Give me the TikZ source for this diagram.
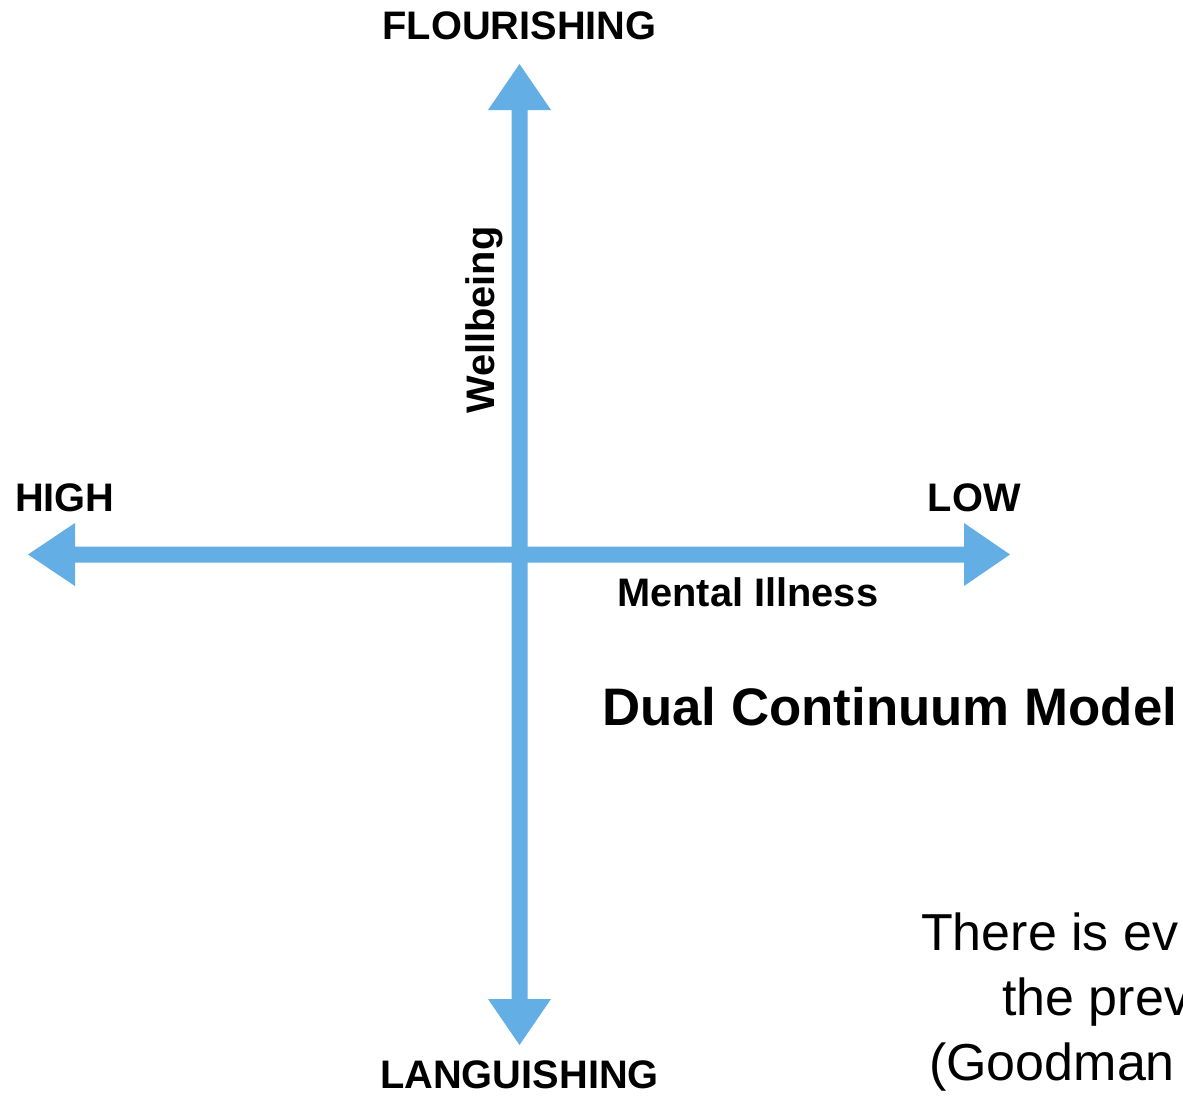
\documentclass[tikz,border=0pt]{standalone}
\usepackage{fontspec}
\setmainfont{Liberation Sans}
\definecolor{axisblue}{RGB}{99,174,229}
\begin{document}
\begin{tikzpicture}[x=1pt,y=-1pt,
  axis/.style={fill=axisblue,draw=none},
  lbl/.style={inner sep=0pt,font=\fontsize{39.8}{46}\selectfont\bfseries},
  body/.style={inner sep=0pt,font=\fontsize{52}{62}\selectfont}]
\useasboundingbox (0,0) rectangle (1183,1096);
\clip (0,0) rectangle (1183,1096);
% vertical axis (wellbeing)
\fill[axis] (511.5,110) -- (488,110) -- (519.5,64) -- (551,110) -- (527.5,110)
  -- (527.5,999) -- (551,999) -- (519.5,1045) -- (488,999) -- (511.5,999) -- cycle;
% horizontal axis (mental illness)
\fill[axis] (75,546.5) -- (75,523) -- (28,554.5) -- (75,586) -- (75,562.5)
  -- (964,562.5) -- (964,586) -- (1010,554.5) -- (964,523) -- (964,546.5) -- cycle;
\coordinate (c) at (519.5,554.5);
% axis end labels
\node[lbl,anchor=base] (top) at (519.5,39) {FLOURISHING};
\node[lbl,anchor=base] (bottom) at (519.5,1088) {LANGUISHING};
\node[lbl,anchor=base west] (left) at (15,511) {HIGH};
\node[lbl,anchor=base east] (right) at (1021,511) {LOW};
% axis names
\node[lbl,anchor=base west] (mi) at (617,606) {Mental Illness};
\node[lbl,anchor=base west,rotate=90] (wb) at (494,414) {Wellbeing};
% title and note
\node[inner sep=0pt,anchor=base west,font=\fontsize{52.8}{64}\selectfont\bfseries] (title) at (602,725) {Dual Continuum Model};
\node[body,anchor=base west] (n1) at (921,950) {There is ev};
\node[body,anchor=base west] (n2) at (1002,1015) {the prev};
\node[body,anchor=base west] (n3) at (929,1080) {(Goodman};
\end{tikzpicture}
\end{document}
